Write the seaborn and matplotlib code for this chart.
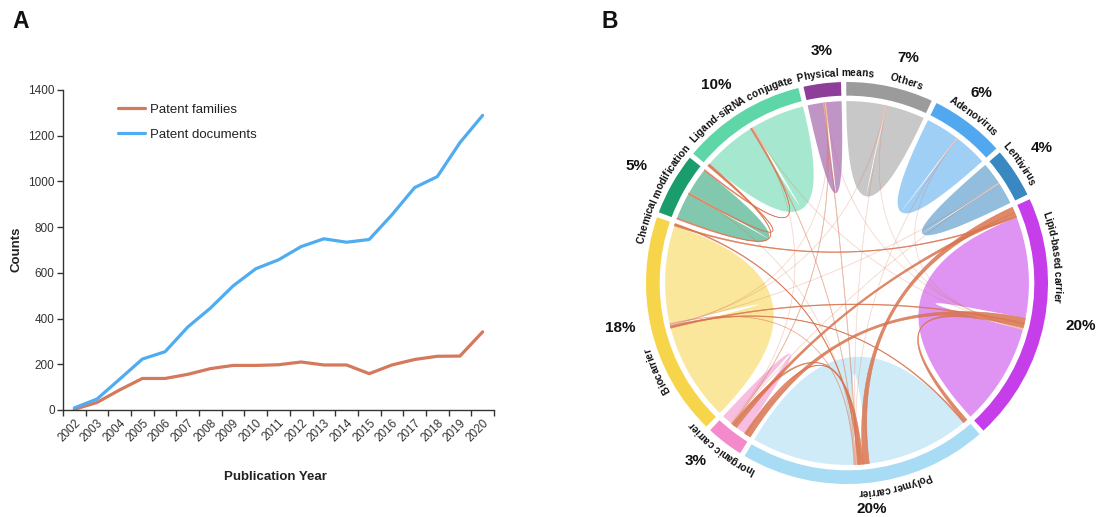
import numpy as np
import pandas as pd
import matplotlib
matplotlib.use("Agg")
import matplotlib.pyplot as plt
import seaborn as sns
from matplotlib.patches import Wedge
from matplotlib.lines import Line2D
from matplotlib.font_manager import FontProperties, findfont, get_font

# ---------------- data ----------------
years = ["2002", "2003", "2004", "2005", "2006", "2007", "2008", "2009", "2010", "2011",
         "2012", "2013", "2014", "2015", "2016", "2017", "2018", "2019", "2020"]
patent_families = [3, 33, 88, 138, 138, 156, 181, 195, 195, 198,
                   210, 197, 197, 159, 197, 221, 235, 236, 342]
patent_documents = [9, 48, 135, 223, 255, 363, 446, 543, 618, 657,
                    715, 749, 734, 746, 854, 973, 1021, 1170, 1289]

sectors = ["Physical means", "Others", "Adenovirus", "Lentivirus", "Lipid-based carrier",
           "Polymer carrier", "Inorganic carrier", "Biocarrier", "Chemical modification",
           "Ligand-siRNA conjugate"]
shares = [3, 7, 6, 4, 20, 20, 3, 18, 5, 10]
sector_colors = ["#8E3D98", "#9B9B9B", "#52A8EE", "#3A88C2", "#C63DEA",
                 "#A8DBF4", "#F28ACB", "#F7D54A", "#1A9C6C", "#5ED6A8"]

# cross-category links (share units): source, target, value, end slots, emphasis
link_source = [4, 4, 6, 5, 7, 4, 7, 4, 8, 8, 9, 5, 5,
               0, 0, 0, 0, 1, 1, 2, 2, 3, 3, 9, 9, 8, 7, 1, 9]
link_target = [5, 6, 4, 6, 4, 5, 5, 7, 9, 9, 8, 6, 7,
               5, 6, 4, 7, 5, 7, 5, 4, 6, 7, 5, 4, 5, 5, 4, 6]
link_value = [0.55, 0.30, 0.45, 0.22, 0.12, 0.30, 0.10, 0.12, 0.12, 0.10, 0.10, 0.15, 0.10,
              0.08, 0.06, 0.05, 0.05, 0.05, 0.05, 0.05, 0.05, 0.05, 0.05, 0.06, 0.05, 0.05, 0.06, 0.04, 0.05]
link_source_slot = ["head", "head", "head", "mid", "mid", "mid", "mid", "head", "mid", "head", "mid", "mid", "mid",
                    "mid", "mid", "mid", "mid", "mid", "mid", "mid", "mid", "mid", "mid", "mid", "mid", "mid", "mid", "mid", "mid"]
link_target_slot = ["mid", "mid", "mid", "mid", "mid", "head", "head", "tail", "head", "head", "tail", "head", "tail",
                    "mid", "mid", "mid", "mid", "mid", "mid", "mid", "mid", "mid", "mid", "mid", "mid", "mid", "mid", "mid", "mid"]
link_emphasis = [2, 2, 2, 2, 2, 2, 2, 2, 2, 2, 2, 2, 2,
                 1, 1, 0, 0, 0, 0, 0, 0, 0, 0, 1, 0, 0, 1, 0, 0]

# ---------------- style ----------------
W, H = 1097, 517
sns.set_theme(style="ticks")
plt.rcParams["font.family"] = ["Liberation Sans", "DejaVu Sans"]
plt.rcParams["axes.edgecolor"] = "#333333"

fam_color = "#D4795B"
doc_color = "#50ACF1"
text_color = "#222222"

fig = plt.figure(figsize=(W / 100, H / 100), dpi=100)
fig.patch.set_facecolor("white")

# ---------------- panel A: line chart ----------------
axA = fig.add_axes([63 / W, 1 - 410 / H, 431 / W, 320 / H])
df = pd.DataFrame({
    "Publication Year": years * 2,
    "Counts": patent_families + patent_documents,
    "series": ["Patent families"] * len(years) + ["Patent documents"] * len(years),
})
sns.lineplot(data=df, x="Publication Year", y="Counts", hue="series",
             palette={"Patent families": fam_color, "Patent documents": doc_color},
             linewidth=2.3, ax=axA, legend=False)
axA.set_facecolor("white")
axA.set_xlim(-0.5, len(years) - 0.5)
axA.set_ylim(0, 1400)
axA.set_yticks(range(0, 1401, 200))
axA.set_xticks(range(len(years)))
axA.set_xticklabels(years, rotation=45, ha="right", rotation_mode="anchor")
axA.set_xticks(np.arange(-0.5, len(years)), minor=True)
axA.tick_params(axis="x", which="major", length=0, pad=5, labelsize=8.5, labelcolor="#333333")
axA.tick_params(axis="x", which="minor", length=4, width=1, color="#333333")
axA.tick_params(axis="y", which="major", length=4, width=1, color="#333333", pad=2,
                labelsize=8.5, labelcolor="#333333")
axA.set_xlabel("")
axA.set_ylabel("")
for s in ("top", "right"):
    axA.spines[s].set_visible(False)
for s in ("left", "bottom"):
    axA.spines[s].set_linewidth(1)
axA.grid(False)

handles = [Line2D([], [], color=fam_color, lw=2.3), Line2D([], [], color=doc_color, lw=2.3)]
axA.legend(handles, ["Patent families", "Patent documents"], frameon=False, loc="upper left",
           bbox_to_anchor=(0.127, 0.958), borderaxespad=0, borderpad=0, handlelength=2.1,
           handletextpad=0.35, labelspacing=1.0, fontsize=9.5, labelcolor=text_color)

fig.text(17 / W, 1 - 249 / H, "Counts", rotation=90, ha="center", va="center",
         fontsize=9.5, fontweight="bold", color=text_color)
fig.text(275 / W, 1 - 477 / H, "Publication Year", ha="center", va="center",
         fontsize=9.5, fontweight="bold", color=text_color)
fig.text(21 / W, 1 - 22 / H, "A", ha="center", va="center", fontsize=16.5, fontweight="bold", color="#111111")
fig.text(610 / W, 1 - 22 / H, "B", ha="center", va="center", fontsize=16.5, fontweight="bold", color="#111111")

# ---------------- panel B: chord diagram ----------------
R_px = 201.0
cx, cy = 847.0, 283.0
axB = fig.add_axes([600 / W, 0, 497 / W, 497 / H])
axB.set_xlim((600 - cx) / R_px, (1097 - cx) / R_px)
axB.set_ylim((cy - 517) / R_px, (cy - 20) / R_px)
axB.axis("off")

n = len(sectors)
gap = 1.5
k = (360.0 - gap * n) / sum(shares)
start0 = 102.5
sec_start = []
pos = start0
for i in range(n):
    sec_start.append(pos)
    pos -= shares[i] * k + gap
sec_end = [sec_start[i] - shares[i] * k for i in range(n)]
sec_mid = [(sec_start[i] + sec_end[i]) / 2 for i in range(n)]

ring_out, ring_w, r_link = 1.0, 0.068, 0.905

for i in range(n):
    axB.add_patch(Wedge((0, 0), ring_out, sec_end[i], sec_start[i], width=ring_w,
                        facecolor=sector_colors[i], edgecolor="none"))


def ang(i, p):
    return sec_start[i] - p * k


# allocate link ends along each sector arc
ends = {i: {"head": [], "mid": [], "tail": []} for i in range(n)}
for j in range(len(link_value)):
    ends[link_source[j]][link_source_slot[j]].append((j, 0))
    ends[link_target[j]][link_target_slot[j]].append((j, 1))

end_arc = {}
self_arc = {}
for i in range(n):
    used = sum(link_value[j] for slot in ends[i].values() for j, _ in slot)
    half = (shares[i] - used) / 2
    p = 0.0
    for j, role in ends[i]["head"]:
        end_arc[(j, role)] = (ang(i, p), ang(i, p + link_value[j]))
        p += link_value[j]
    a = (ang(i, p), ang(i, p + half))
    p += half
    for j, role in ends[i]["mid"]:
        end_arc[(j, role)] = (ang(i, p), ang(i, p + link_value[j]))
        p += link_value[j]
    b = (ang(i, p), ang(i, p + half))
    p += half
    for j, role in ends[i]["tail"]:
        end_arc[(j, role)] = (ang(i, p), ang(i, p + link_value[j]))
        p += link_value[j]
    self_arc[i] = (a, b)


def arc_pts(a1, a2, r, m=60):
    t = np.radians(np.linspace(a1, a2, m))
    return np.column_stack([r * np.cos(t), r * np.sin(t)])


def bez(p0, p2, m=80):
    t = np.linspace(0, 1, m)[:, None]
    return (1 - t) ** 2 * p0 + t ** 2 * p2


def ribbon(a, b, r):
    A = arc_pts(a[0], a[1], r)
    B = arc_pts(b[0], b[1], r)
    return np.vstack([A, bez(A[-1], B[0]), B, bez(B[-1], A[0])])


# self links (large translucent lobes)
for i in range(n):
    a, b = self_arc[i]
    pts = ribbon(a, b, r_link)
    axB.fill(pts[:, 0], pts[:, 1], color=sector_colors[i], alpha=0.55, lw=0)

link_color = "#D9744F"
alphas = {0: 0.16, 1: 0.35, 2: 0.85}
order = sorted(range(len(link_value)), key=lambda j: link_emphasis[j])
for j in order:
    pts = ribbon(end_arc[(j, 0)], end_arc[(j, 1)], r_link)
    al = alphas[link_emphasis[j]]
    axB.fill(pts[:, 0], pts[:, 1], facecolor=link_color, edgecolor=link_color,
             alpha=al, lw=0.5 if link_emphasis[j] < 2 else 0.4)

# curved category labels and share labels
label_shift = [-3.8, -4.0, 0.2, 1.4, 18.5, 8.0, 0.3, 11.5, 3.8, -0.7]
pct_shift = [-0.9, -2.8, 1.9, 1.4, 0.9, 0.9, -2.8, -1.9, 0.5, 1.5]
pct_radius = [1.16, 1.16, 1.16, 1.18, 1.18, 1.13, 1.16, 1.15, 1.20, 1.18]
fp_lab = FontProperties(family="Liberation Sans", weight="bold", size=7.3)
ft = get_font(findfont(fp_lab))
ft.set_size(7.3, 72)


def curved_label(text, theta_c, r_base):
    adv = [ft.load_char(ord(c)).linearHoriAdvance / 65536 * 100 / 72 for c in text]
    r_pix = r_base * R_px
    total = sum(adv) / r_pix
    cum = 0.0
    for c, w in zip(text, adv):
        th = np.radians(theta_c) + total / 2 - (cum + w / 2) / r_pix
        cum += w
        if c == " ":
            continue
        axB.text(r_base * np.cos(th), r_base * np.sin(th), c, rotation=np.degrees(th) - 90,
                 ha="center", va="baseline", rotation_mode="anchor",
                 fontproperties=fp_lab, color="#111111")


for i in range(n):
    curved_label(sectors[i], sec_mid[i] + label_shift[i], 1.03)
    t = np.radians(sec_mid[i] + pct_shift[i])
    axB.text(pct_radius[i] * np.cos(t), pct_radius[i] * np.sin(t), f"{shares[i]}%",
             ha="center", va="center", fontsize=11, fontweight="bold", color="#111111")

fig.savefig("out.png", dpi=100, facecolor="white")
